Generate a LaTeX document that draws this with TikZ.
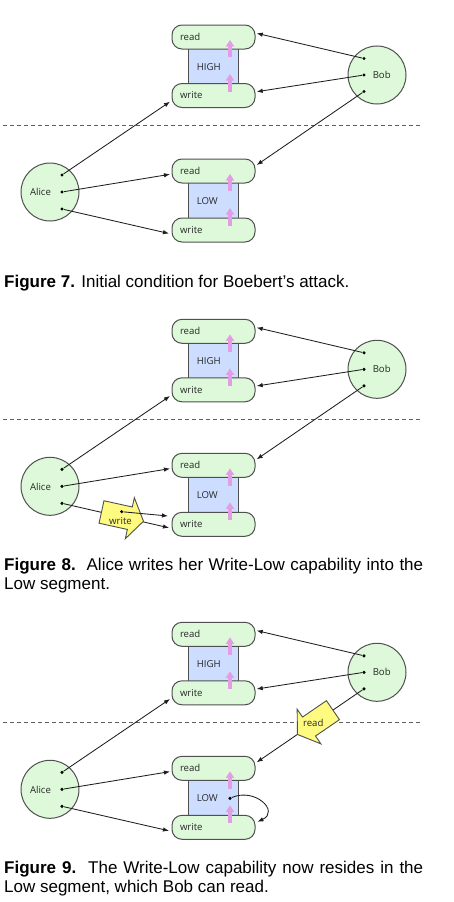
\documentclass[tikz,border=0pt]{standalone}
\usepackage{fontspec}
\setmainfont{Liberation Sans}
\newfontfamily\dlabfamily{Open Sans}
\usetikzlibrary{arrows.meta}
\newcommand\dlabfont{\dlabfamily\fontsize{9.6bp}{11bp}\selectfont}
\newcommand\figcapfont{\fontsize{17bp}{19bp}\selectfont}
\definecolor{pillgreen}{RGB}{221,249,217}
\definecolor{segblue}{RGB}{204,221,255}
\definecolor{edgegray}{RGB}{80,80,80}
\definecolor{pinkc}{RGB}{228,156,228}
\definecolor{yellowc}{RGB}{255,250,128}
\definecolor{linecol}{RGB}{30,30,30}
\definecolor{labtext}{RGB}{40,40,40}
\definecolor{sepgray}{RGB}{95,95,95}
\tikzset{
  pill/.style={draw=edgegray, fill=pillgreen, rounded corners=10bp, line width=1bp,
    text width=67bp, inner xsep=8bp, inner ysep=0pt, minimum height=24bp,
    align=left, font=\dlabfont, text=labtext},
  seg/.style={draw=edgegray, fill=segblue, line width=1bp, minimum width=50bp,
    minimum height=36bp, inner sep=0pt},
  actor/.style={circle, draw=edgegray, fill=pillgreen, minimum size=58bp,
    inner sep=0pt, line width=1bp},
  lab/.style={font=\dlabfont, text=labtext, inner sep=0pt},
  capdot/.style={circle, fill=black, inner sep=0pt, minimum size=3.4bp},
  conn/.style={draw=linecol, line width=0.85bp, -{Latex[length=6bp,width=4.5bp]}},
  uparrow/.style={draw=pinkc, line width=3.5bp, -{Triangle[length=6.5bp,width=8bp]}},
  sepline/.style={draw=sepgray, dash pattern=on 4bp off 3bp, line width=0.8bp},
  figcap/.style={font=\figcapfont, anchor=base west, inner sep=0pt},
  yarrow/.style={draw=edgegray, fill=yellowc, line width=0.9bp, line join=miter},
}
\newcommand\basepanel{%
  \coordinate (sepL) at (3,125);
  \coordinate (sepR) at (423,125);
  \draw[sepline] (sepL) -- (sepR);
  % segments
  \node[seg] (hseg) at (213,66) {};
  \node[seg] (lseg) at (213,200.5) {};
  % pills
  \node[pill] (hr) at (213.5,37) {read};
  \node[pill] (hw) at (213.5,95.5) {write};
  \node[pill] (lr) at (213.5,171) {read};
  \node[pill] (lw) at (213.5,230) {write};
  \node[lab] (htext) at (208.7,66.7) {HIGH};
  \node[lab] (ltext) at (207.3,201) {LOW};
  % pink arrows
  \draw[uparrow] (230,57.3) -- (230,40);
  \draw[uparrow] (230,91.7) -- (230,74);
  \draw[uparrow] (230,191.3) -- (230,174);
  \draw[uparrow] (230,225.7) -- (230,208);
  % actors
  \node[actor] (alice) at (50,192) {};
  \node[actor] (bob) at (377,75) {};
  \node[lab] (alicet) at (40.5,192.3) {Alice};
  \node[lab] (bobt) at (381.7,75) {Bob};
  % dots
  \node[capdot] (a1) at (62,175) {};
  \node[capdot] (a2) at (62,192) {};
  \node[capdot] (a3) at (62,209) {};
  \node[capdot] (b1) at (364,58.5) {};
  \node[capdot] (b2) at (364,75) {};
  \node[capdot] (b3) at (364,91.5) {};
  % endpoints
  \coordinate (hrR) at (256.7,33.3);
  \coordinate (hwR) at (256.7,91.7);
  \coordinate (lrR) at (256.7,165);
  \coordinate (hwL) at (170,101.7);
  \coordinate (lrL) at (170,174.3);
  \coordinate (lwL) at (169,233.5);
  \draw[conn] (b1) -- (hrR);
  \draw[conn] (b2) -- (hwR);
  \draw[conn] (b3) -- (lrR);
  \draw[conn] (a1) -- (hwL);
  \draw[conn] (a2) -- (lrL);
  \draw[conn] (a3) -- (lwL);
}
\newcommand\yellowshape{%
  \draw[yarrow] (-21.5,-11.5) -- (7.5,-11.5) -- (7.5,-21) -- (21.5,0) -- (7.5,21)
    -- (7.5,11.5) -- (-21.5,11.5) -- cycle;
}
\begin{document}
\begin{tikzpicture}[x=1bp,y=-1bp]
\useasboundingbox (0,0) rectangle (454,902);
% Figure 7
\begin{scope}[name prefix=p7-]
  \basepanel
\end{scope}
\node[figcap] (c7) at (4,287) {\textbf{Figure 7.} Initial condition for Boebert’s attack.};
% Figure 8
\begin{scope}[shift={(0,294.3)}, name prefix=p8-]
  \basepanel
  \begin{scope}[shift={(122.5,222.3)}, rotate=-12.4]
    \yellowshape
  \end{scope}
  \node[lab] (wtext) at (120.5,226.7) {write};
  \node[capdot] (wdot) at (121.7,217.4) {};
  \coordinate (lwL2) at (168,221.7);
  \draw[conn] (wdot) -- (lwL2);
\end{scope}
\node[figcap] (c8a) at (4,570.7) {\makebox[419bp][s]{\textbf{Figure 8.}\ \ Alice writes her Write-Low capability into the}};
\node[figcap] (c8b) at (4,589.5) {Low segment.};
% Figure 9
\begin{scope}[shift={(0,597.3)}, name prefix=p9-]
  \basepanel
  \begin{scope}[shift={(315.2,125)}, rotate=214.4]
    \yellowshape
  \end{scope}
  \node[lab] (rtext) at (313.3,126) {read};
  \node[capdot] (ldot) at (230,201) {};
  \coordinate (lwR) at (257.5,224.5);
  \draw[conn] (ldot) .. controls (255,190) and (280,214) .. (lwR);
\end{scope}
\node[figcap] (c9a) at (4,873.3) {\makebox[419bp][s]{\textbf{Figure 9.}\ \ The Write-Low capability now resides in the}};
\node[figcap] (c9b) at (4,892.7) {Low segment, which Bob can read.};
\end{tikzpicture}
\end{document}
